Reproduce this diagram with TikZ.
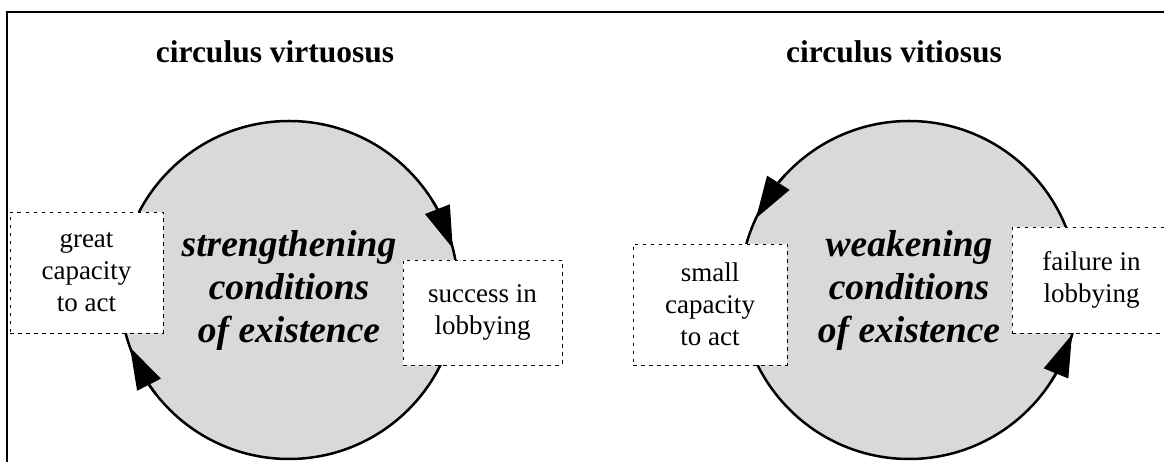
\documentclass[tikz,border=0pt]{standalone}
\usepackage{fontspec}
\setmainfont{Liberation Serif}
\usetikzlibrary{arrows.meta,bending}

\tikzset{
  ring/.style={circle, draw, line width=2.5pt, fill=black!15, inner sep=0pt, outer sep=0pt,
    minimum size=338pt, align=center, font=\fontsize{37.5}{43}\selectfont\bfseries\itshape},
  lbox/.style={draw, dash pattern=on 3.5pt off 4.5pt, line width=0.9pt, fill=white,
    align=center, inner sep=0pt, font=\fontsize{27}{32}\selectfont},
  turn/.style={line width=2.5pt, -{Triangle[length=42pt,width=26pt,flex]}},
  heading/.style={font=\fontsize{31.5}{36}\selectfont\bfseries, anchor=base}
}

\begin{document}
\begin{tikzpicture}[x=1pt,y=1pt]
  \useasboundingbox (0,0) rectangle (1164,462);

  % Frame
  \draw[line width=1.2pt] (7,0) -- (7,450) -- (1164,450);

  % Titles
  \node[heading] (tvirt) at (275,399) {circulus virtuosus};
  \node[heading] (tviti) at (894,399) {circulus vitiosus};

  % Circles
  \node[ring] (vc) at (289,172) {strengthening\\conditions\\of existence};
  \node[ring] (wc) at (909,172) {weakening\\conditions\\of existence};

  % Boxes
  \node[lbox, minimum width=153pt, minimum height=121pt] (great) at (86.5,189.5) {great\\capacity\\to act};
  \node[lbox, minimum width=159pt, minimum height=105pt] (success) at (482.5,149.5) {success in\\lobbying};
  \node[lbox, minimum width=154pt, minimum height=121pt] (small) at (710,157.5) {small\\capacity\\to act};
  \node[lbox, minimum width=159pt, minimum height=106pt] (failure) at (1091.5,182) {failure in\\lobbying};

  % Arrows
  \draw[turn] (vc.32) arc[start angle=32, end angle=14.3, radius=169pt];
  \draw[turn] (vc.218) arc[start angle=218, end angle=199.8, radius=169pt];
  \draw[turn] (wc.137) arc[start angle=137, end angle=154.9, radius=169pt];
  \draw[turn] (wc.-33) arc[start angle=-33, end angle=-15.3, radius=169pt];
\end{tikzpicture}
\end{document}
